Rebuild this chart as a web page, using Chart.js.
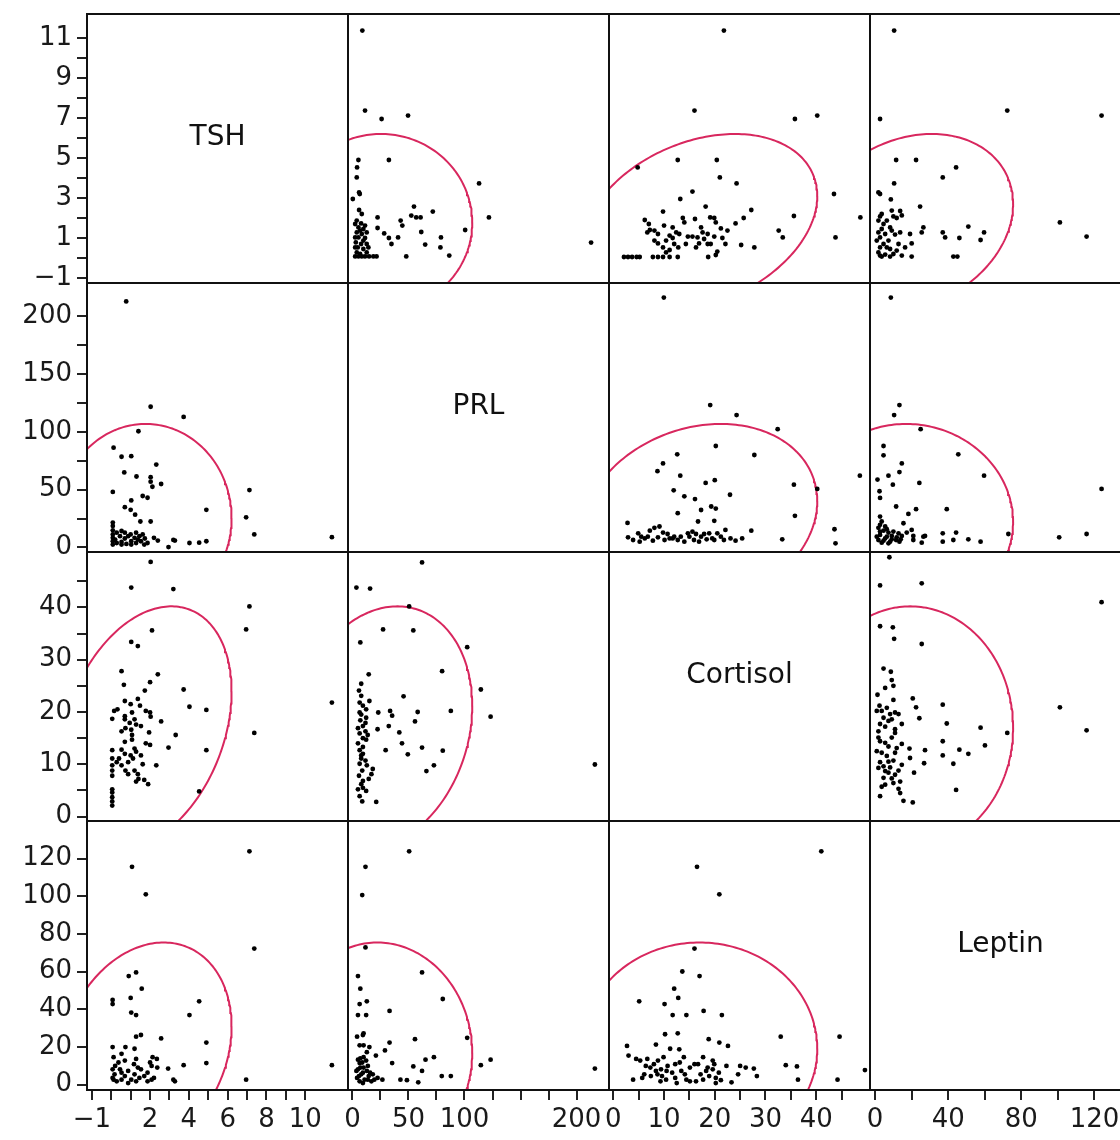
<!DOCTYPE html>
<html>
<head>
<meta charset="utf-8">
<script src="https://cdn.jsdelivr.net/npm/chart.js@4"></script>
<style>
  html, body { margin: 0; padding: 0; background: #fff; }
  #wrap { position: relative; width: 1120px; height: 1140px; overflow: hidden; background: #fff; }
  #wrap canvas { position: absolute; }
  .diag { position: absolute; display: flex; align-items: center; justify-content: center;
          box-sizing: border-box; padding-bottom: 26px; font: 28px "DejaVu Sans", sans-serif; color: #111; }
</style>
</head>
<body>
<div id="wrap"></div>
<script>
// variables of the matrix
const vars = ['TSH', 'PRL', 'Cortisol', 'Leptin'];

// axis ranges and ticks for each variable
const varMin = [-1.25, -4, -0.85, -2.8];
const varMax = [12.2, 229, 50.6, 140];
const yTicks = [
  [-1, 0, 1, 2, 3, 4, 5, 6, 7, 8, 9, 10, 11],
  [0, 25, 50, 75, 100, 125, 150, 175, 200],
  [0, 5, 10, 15, 20, 25, 30, 35, 40, 45],
  [0, 20, 40, 60, 80, 100, 120]
];
const yLabels = [
  [-1, 1, 3, 5, 7, 9, 11],
  [0, 50, 100, 150, 200],
  [0, 10, 20, 30, 40],
  [0, 20, 40, 60, 80, 100, 120]
];
const xTicks = [
  [-1, 0, 1, 2, 3, 4, 5, 6, 7, 8, 9, 10],
  [0, 25, 50, 75, 100, 125, 150, 175, 200],
  [0, 5, 10, 15, 20, 25, 30, 35, 40, 45],
  [0, 20, 40, 60, 80, 100, 120]
];
const xLabels = [
  [-1, 2, 4, 6, 8, 10],
  [0, 50, 100, 200],
  [0, 10, 20, 30, 40],
  [0, 40, 80, 120]
];

// observations, one array per pair: [first var, second var]
const tshPrl = [
  [11.37,8.8],[7.37,11.2],[6.95,26],[7.12,49.6],[4.9,5.3],[4.9,32.5],[4.53,4.1],[4.03,3.8],[3.28,5.9],[3.2,6.5],
  [2.95,0.3],[3.73,113],[2.4,5.9],[2.57,54.9],[2.32,71.7],[2.12,52.5],[2.03,56.9],[2.03,60.8],[2.03,121.8],[2.03,22.4],
  [1.87,3.8],[1.73,7.7],[1.53,5.3],[1.45,9.7],[1.28,3.8],[1.2,8.3],[1.03,5.3],[1.0,11.2],[0.78,3.0],[0.7,7.7],
  [0.7,12.7],[0.53,4.7],[0.45,9.7],[0.28,3.8],[0.2,6.8],[0.08,5.3],[0.08,8.3],[0.08,11.2],[0.08,14.8],[0.08,18.6],
  [0.08,21.5],[1.87,43],[1.62,44.5],[1.5,22.4],[1.23,28.3],[1.0,32.5],[0.7,34.8],[1.03,40.7],[1.3,61.4],[1.03,79],
  [0.53,78.5],[0.67,64.9],[1.4,100.6],[0.77,213],[0.08,48],[0.12,86.4],[1.7,2.4],[1.62,11.2],[1.37,6.8],[1.28,12.7],
  [1.03,2.4],[0.87,9.7],[0.53,14.2],[0.53,2.4],[0.28,12.7],[0.08,2.4],[2.2,8.3]
];
const tshCortisol = [
  [11.37,21.8],[7.37,16.0],[6.95,35.8],[7.12,40.2],[4.53,4.8],[4.9,12.7],[4.9,20.4],[4.03,21.0],[3.73,24.3],[3.32,15.6],
  [2.95,13.2],[3.2,43.5],[2.57,18.2],[2.4,27.2],[2.32,9.8],[2.1,35.6],[2.03,48.7],[2.0,25.7],[1.9,6.2],[1.7,7.0],
  [1.4,7.2],[1.62,10.0],[1.53,11.7],[2.0,13.7],[1.78,14.0],[1.95,16.1],[2.03,19.1],[2.0,19.9],[1.78,20.2],[1.48,21.2],
  [1.37,22.5],[1.73,24.1],[1.28,12.4],[1.2,13.0],[1.12,11.1],[1.0,11.7],[0.87,10.4],[0.87,8.1],[0.73,8.8],[0.53,9.8],
  [0.4,11.1],[0.28,10.4],[1.07,15.6],[1.03,16.6],[1.53,17.3],[0.95,17.9],[0.7,18.6],[0.7,19.2],[1.07,19.9],[0.7,14.3],
  [0.7,22.1],[0.65,25.2],[0.53,27.8],[1.37,32.6],[1.03,33.4],[1.03,43.8],[0.32,20.5],[0.15,20.2],[0.05,18.7],[0.05,2.1],
  [0.05,2.9],[0.05,3.7],[0.05,4.6],[0.05,5.2],[0.05,7.8],[0.05,8.8],[0.05,9.8],[0.05,11.1],[0.05,12.7],[1.37,8.1],
  [1.2,8.8],[0.7,12.0],[0.53,12.8],[1.07,14.7],[0.73,16.9],[0.53,16.3],[1.28,17.6],[1.2,18.6],[1.0,21.5],[1.28,6.7]
];
const tshLeptin = [
  [11.37,10.4],[6.95,2.7],[7.37,72.3],[7.12,123.9],[4.9,11.5],[4.9,22.4],[4.53,44.3],[4.03,37.0],[3.73,10.4],[3.28,1.8],
  [3.2,2.7],[2.93,8.6],[2.57,24.6],[2.37,9.1],[2.35,13.7],[2.13,14.6],[2.08,10.0],[2.0,11.8],[2.08,2.7],[1.87,1.8],
  [1.7,4.6],[1.53,8.2],[1.45,3.6],[1.28,1.8],[1.2,5.5],[1.17,10.9],[1.03,2.7],[0.87,7.3],[0.7,12.8],[0.7,4.6],
  [0.53,2.7],[0.45,8.2],[0.37,11.8],[0.28,1.8],[0.17,5.5],[0.12,14.6],[0.07,8.2],[0.07,3.6],[0.07,20.0],[1.2,19.1],
  [0.73,20.0],[1.28,25.5],[1.53,26.4],[1.28,37.0],[1.03,38.3],[1.0,46.1],[1.57,51.0],[0.9,57.7],[1.28,59.6],[0.07,42.8],
  [0.07,45.0],[1.78,101.1],[1.07,115.7],[2.2,3.6],[1.87,6.4],[0.87,0.9],[1.37,9.1],[0.53,6.4],[0.2,10.0],[0.12,2.7],
  [0.53,16.4],[1.28,13.7]
];
const prlCortisol = [
  [216.4,9.96],[123.3,19.1],[114.6,24.3],[102.4,32.4],[87.8,20.2],[80,27.8],[80.6,12.6],[72.7,9.8],[66,8.7],[62.1,13.2],
  [62.1,48.6],[55.8,18.2],[58.2,20.0],[54.3,35.6],[50.6,40.2],[49.4,11.9],[44.2,14.0],[41.8,16.1],[45.6,23.0],[35.4,19.3],
  [33.6,20.2],[32.4,17.3],[29.6,12.7],[27.3,35.8],[22.4,16.7],[23.0,19.9],[21.2,2.8],[14.5,27.2],[15.7,43.6],[3.5,43.8],
  [7.0,33.3],[12.2,4.9],[14.5,7.2],[16.9,8.1],[18.1,9.1],[12.8,9.8],[11.6,10.7],[7.8,11.7],[6.4,12.7],[4.9,14.0],
  [13.6,15.6],[11.6,16.3],[9.3,17.3],[7.0,18.4],[12.2,18.9],[6.4,19.9],[9.3,21.2],[15.1,22.1],[6.4,21.8],[5.8,24.1],
  [7.8,25.4],[8.7,2.9],[6.4,3.9],[4.9,5.2],[7.8,6.2],[5.8,7.8],[8.7,8.8],[6.4,10.1],[9.3,12.0],[9.3,15.0],
  [4.9,16.9],[7.8,19.5],[9.3,5.5],[9.3,6.8],[7.8,11.1],[9.3,13.3],[6.4,15.9],[11.6,17.9],[12.2,20.5],[7.8,23.1],
  [12.2,14.7]
];
const prlLeptin = [
  [216.4,8.6],[123.3,13.3],[114.6,10.4],[102.4,24.9],[87.8,4.6],[79.7,4.6],[80.6,45.5],[72.7,14.6],[65.2,13.3],[62.1,7.3],
  [58.7,1.3],[54.3,9.7],[55.8,24.2],[62.1,59.6],[48.6,2.4],[42.8,2.7],[35.4,11.5],[33.1,22.4],[33.1,39.2],[29.0,18.2],
  [20.9,15.5],[26.7,2.7],[22.4,3.6],[50.6,123.9],[11.6,72.9],[8.7,100.7],[11.6,115.7],[12.2,37],[4.9,37],[12.8,44.3],
  [6.4,42.8],[7.0,51],[4.9,57.7],[15.1,20],[6.4,20.9],[9.3,26.4],[4.1,25.5],[9.9,27.3],[16.9,1.8],[14.5,4.6],
  [12.8,7.3],[13.7,10.0],[12.2,12.8],[10.8,2.7],[9.3,6.4],[9.9,9.1],[8.7,11.8],[9.9,14.6],[6.4,1.8],[5.8,4.6],
  [4.9,8.2],[6.4,11.5],[7.0,14.0],[4.1,3.6],[3.5,7.3],[18.1,5.5],[19.5,2.7],[9.3,0.9],[7.8,5.5],[7.0,9.1],
  [4.9,13.3],[13.7,2.7],[15.7,6.4],[12.8,17.3],[9.9,20.9]
];
const cortisolLeptin = [
  [49.6,7.8],[44.2,2.7],[44.6,25.5],[41.0,123.9],[36.4,2.7],[36.2,9.7],[34.0,10.4],[33.0,25.5],[28.3,4.6],[27.7,8.6],
  [26.1,9.1],[25.0,10.0],[24.6,5.5],[23.3,1.3],[22.3,10.0],[22.6,20.6],[20.9,22.4],[21.4,37.0],[18.8,24.2],[17.8,39.2],
  [17.0,57.7],[16.0,72.3],[20.9,101.1],[16.5,115.7],[21.2,2.4],[20.2,3.6],[19.6,8.2],[19.9,10.9],[19.6,12.8],[18.9,4.6],
  [18.3,7.3],[17.7,2.7],[17.2,5.5],[16.7,10.9],[17.7,14.6],[16.3,1.8],[16.0,10.9],[14.4,2.7],[13.4,7.3],[13.1,11.8],
  [13.9,14.6],[12.2,3.6],[12.2,10.9],[13.0,18.8],[12.7,27.3],[14.4,37],[12.8,46.1],[12.0,51],[13.6,60.1],[11.7,37],
  [11.2,19.1],[10.2,26.8],[10.1,42.8],[10.4,2.7],[10.5,7.3],[10.7,10.0],[9.6,4.6],[9.9,14.6],[8.7,5.5],[8.4,7.3],
  [8.8,12.8],[8.4,21.3],[7.3,9.1],[6.7,13.7],[5.7,3.6],[5.3,12.8],[4.5,13.7],[3.9,2.7],[3.0,15.5],[2.7,20.6],
  [5.1,44.3],[20.2,0.9],[20.8,6.4],[18.6,9.1],[15.1,1.8],[14.1,5.5],[15.1,9.1],[12.5,0.9],[11.6,6.4],[9.3,1.8],
  [9.4,8.2],[7.4,4.6],[8.0,10.9],[6.1,5.5],[6.4,10.0]
];

// density ellipse estimates (mean, sd per variable, correlation per pair)
const means = [1.77, 25.4, 17.0, 19.2];
const sds = [1.81, 33.3, 9.48, 23.0];
const pairCorr = { 'TSH|PRL': 0.0, 'TSH|Cortisol': 0.30, 'TSH|Leptin': 0.21,
                   'PRL|Cortisol': 0.18, 'PRL|Leptin': -0.04, 'Cortisol|Leptin': 0.0 };
const pairData = { 'TSH|PRL': tshPrl, 'TSH|Cortisol': tshCortisol, 'TSH|Leptin': tshLeptin,
                   'PRL|Cortisol': prlCortisol, 'PRL|Leptin': prlLeptin, 'Cortisol|Leptin': cortisolLeptin };

// layout of the grid
const cellX = [87, 348, 609, 870];
const cellY = [14, 283, 552, 821];
const cellW = 261, cellH = 269;
const axisW = 87, axisH = 50, PAD = 16;
const tickFont = { family: 'DejaVu Sans', size: 26 };

const fmt = v => v < 0 ? '\u2212' + Math.abs(v) : String(v);

function pairKey(r, c) {
  const a = Math.min(r, c), b = Math.max(r, c);
  return vars[a] + '|' + vars[b];
}

function cellPoints(r, c) {
  return pairData[pairKey(r, c)].map(p => r < c ? { x: p[1], y: p[0] } : { x: p[0], y: p[1] });
}

// 95% bivariate normal ellipse
function ellipse(r, c) {
  const k = Math.sqrt(-2 * Math.log(0.05));
  const rho = pairCorr[pairKey(r, c)];
  const out = [];
  for (let i = 0; i <= 240; i++) {
    const t = i / 240 * 2 * Math.PI;
    out.push({
      x: means[c] + k * sds[c] * Math.cos(t),
      y: means[r] + k * sds[r] * (rho * Math.cos(t) + Math.sqrt(1 - rho * rho) * Math.sin(t))
    });
  }
  return out;
}

const framePlugin = {
  id: 'frame',
  afterDraw(chart) {
    const { ctx, chartArea: a } = chart;
    ctx.save();
    ctx.strokeStyle = '#111';
    ctx.lineWidth = 2;
    ctx.strokeRect(a.left, a.top, a.right - a.left, a.bottom - a.top);
    ctx.restore();
  }
};

const wrap = document.getElementById('wrap');

for (let r = 0; r < 4; r++) {
  for (let c = 0; c < 4; c++) {
    const showY = c === 0, showX = r === 3;
    const canvas = document.createElement('canvas');
    const w = cellW + 2 * PAD + (showY ? axisW : 0);
    const h = cellH + 2 * PAD + (showX ? axisH : 0);
    canvas.width = w; canvas.height = h;
    canvas.style.left = (cellX[c] - PAD - (showY ? axisW : 0)) + 'px';
    canvas.style.top = (cellY[r] - PAD) + 'px';
    canvas.style.width = w + 'px'; canvas.style.height = h + 'px';
    wrap.appendChild(canvas);

    const datasets = [];
    if (r !== c) {
      datasets.push({ data: cellPoints(r, c), pointRadius: 2.4, pointBackgroundColor: '#000', pointBorderWidth: 0 });
      datasets.push({ data: ellipse(r, c), showLine: true, pointRadius: 0, borderColor: '#d8275e', borderWidth: 2, fill: false });
    }

    const xScale = {
      type: 'linear', min: varMin[c], max: varMax[c], display: showX,
      grid: { drawOnChartArea: false, drawTicks: true, tickLength: 10, color: '#222', lineWidth: 2 },
      border: { display: false },
      ticks: { autoSkip: false, maxRotation: 0, padding: 5, font: tickFont, color: '#1a1a1a',
               callback: v => xLabels[c].includes(v) ? fmt(v) : '' },
      afterBuildTicks: s => { s.ticks = xTicks[c].map(v => ({ value: v })); }
    };
    if (showX) xScale.afterFit = s => { s.height = axisH; s.paddingLeft = 0; s.paddingRight = 0; };

    const yScale = {
      type: 'linear', min: varMin[r], max: varMax[r], display: showY,
      grid: { drawOnChartArea: false, drawTicks: true, tickLength: 10, color: '#222', lineWidth: 2 },
      border: { display: false },
      ticks: { autoSkip: false, padding: 5, font: tickFont, color: '#1a1a1a',
               callback: v => yLabels[r].includes(v) ? fmt(v) : '' },
      afterBuildTicks: s => { s.ticks = yTicks[r].map(v => ({ value: v })); }
    };
    if (showY) yScale.afterFit = s => { s.width = axisW; s.paddingTop = 0; s.paddingBottom = 0; };

    new Chart(canvas.getContext('2d'), {
      type: 'scatter',
      data: { datasets },
      options: {
        responsive: false,
        animation: false,
        events: [],
        layout: { padding: PAD },
        plugins: { legend: { display: false }, tooltip: { enabled: false } },
        scales: { x: xScale, y: yScale }
      },
      plugins: [framePlugin]
    });

    if (r === c) {
      const lab = document.createElement('div');
      lab.className = 'diag';
      lab.textContent = vars[r];
      lab.style.left = cellX[c] + 'px';
      lab.style.top = cellY[r] + 'px';
      lab.style.width = cellW + 'px';
      lab.style.height = cellH + 'px';
      wrap.appendChild(lab);
    }
  }
}
</script>
</body>
</html>
